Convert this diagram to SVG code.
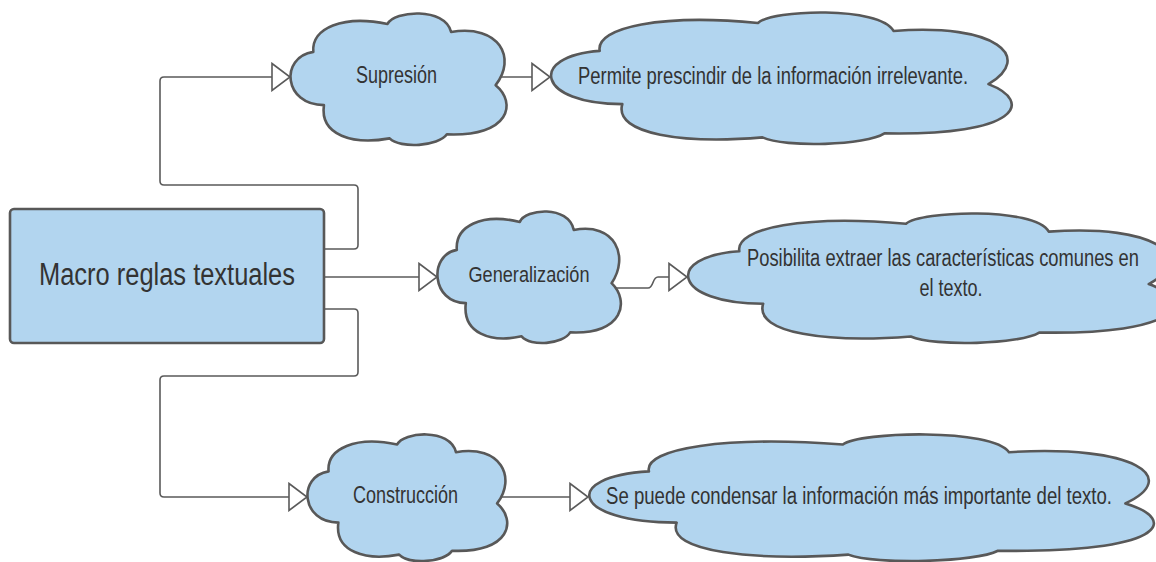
<svg xmlns="http://www.w3.org/2000/svg" xmlns:xlink="http://www.w3.org/1999/xlink" width="1156" height="562" viewBox="0 0 1156 562">
<style>
.cloud{fill:#b2d5ef;stroke:#585858;stroke-width:2.6;vector-effect:non-scaling-stroke;stroke-linejoin:round}
.box{fill:#b2d5ef;stroke:#585858;stroke-width:2.6}
.conn{fill:none;stroke:#5a5a5a;stroke-width:1.6;marker-end:url(#tri)}
.lbl{font-family:"Liberation Sans",Arial,sans-serif;fill:#333;text-anchor:middle}
</style>
<defs>
<marker id="tri" viewBox="0 0 20 30" refX="19" refY="15" markerWidth="20" markerHeight="30" markerUnits="userSpaceOnUse" orient="auto">
<path d="M1,1.5 L19,15 L1,28.5 Z" fill="#fff" stroke="#5a5a5a" stroke-width="1.6"/>
</marker>
<path id="cloudShape" class="cloud" d="M11,30 C10,12 25,2 46,9 C49,-1 73,-4 76,15 C99,9 107,35 97,55 C107,68 104,94 74,92 C70,101 52,103 47,95 C30,100 14,93 16,70 C-3,70 -5,34 11,30 Z"/>
</defs>
<rect width="1156" height="562" fill="#fff"/>
<g id="connectors">
<path class="conn" d="M325,249 H354 Q358,249 358,245 V189 Q358,185 354,185 H164 Q160,185 160,181 V81 Q160,77 164,77 H290"/>
<path class="conn" d="M325,277 H437"/>
<path class="conn" d="M325,309 H354 Q358,309 358,313 V372 Q358,376 354,376 H164 Q160,376 160,380 V493 Q160,497 164,497 H307"/>
<path class="conn" d="M500,77 H550"/>
<path class="conn" d="M613,288 H648 C654,288 652,277 658,277 H687"/>
<path class="conn" d="M500,497 H588"/>
</g>
<g id="macro">
<rect class="box" x="10" y="209" width="314" height="134" rx="4"/>
<text class="lbl" x="167" y="285" font-size="31" textLength="256" lengthAdjust="spacingAndGlyphs">Macro reglas textuales</text>
</g>
<g id="supresion">
<use xlink:href="#cloudShape" transform="translate(290,12) scale(2.12,1.33)"/>
<text class="lbl" x="396.5" y="83" font-size="23" textLength="81" lengthAdjust="spacingAndGlyphs">Supresión</text>
</g>
<g id="permite">
<use xlink:href="#cloudShape" transform="translate(550,11) scale(4.52,1.33)"/>
<text class="lbl" x="773" y="84" font-size="23" textLength="390" lengthAdjust="spacingAndGlyphs">Permite prescindir de la información irrelevante.</text>
</g>
<g id="generalizacion">
<use xlink:href="#cloudShape" transform="translate(437,210) scale(1.8,1.33)"/>
<text class="lbl" x="529" y="282" font-size="22" textLength="121" lengthAdjust="spacingAndGlyphs">Generalización</text>
</g>
<g id="posibilita">
<use xlink:href="#cloudShape" transform="translate(687,212) scale(4.76,1.31)"/>
<text class="lbl" x="943" y="266" font-size="23" textLength="392" lengthAdjust="spacingAndGlyphs">Posibilita extraer las características comunes en</text>
<text class="lbl" x="951" y="296" font-size="23" textLength="63" lengthAdjust="spacingAndGlyphs">el texto.</text>
</g>
<g id="construccion">
<use xlink:href="#cloudShape" transform="translate(307,433) scale(1.96,1.28)"/>
<text class="lbl" x="405.5" y="503" font-size="23" textLength="105" lengthAdjust="spacingAndGlyphs">Construcción</text>
</g>
<g id="sepuede">
<use xlink:href="#cloudShape" transform="translate(588,433) scale(5.54,1.28)"/>
<text class="lbl" x="859" y="504" font-size="23" textLength="506" lengthAdjust="spacingAndGlyphs">Se puede condensar la información más importante del texto.</text>
</g>
</svg>
